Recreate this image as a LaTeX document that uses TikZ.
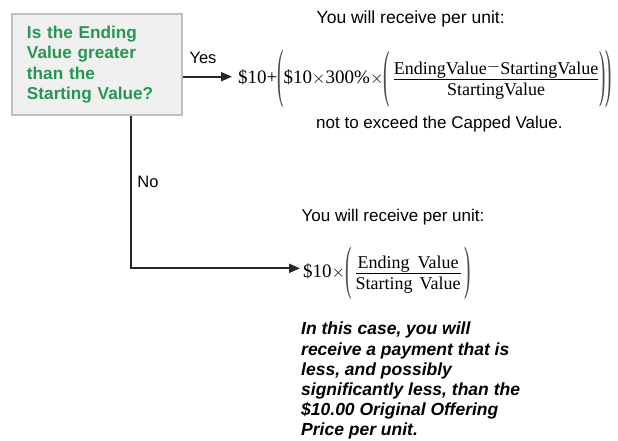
\documentclass[tikz,border=0pt]{standalone}
\usepackage{fontspec}
\usepackage{graphicx}
\setmainfont{Liberation Serif}
\setsansfont{Liberation Sans}
\usetikzlibrary{arrows.meta,calc}
\definecolor{qgreen}{RGB}{38,150,84}
\newcommand{\tallL}[1]{\vcenter{\hbox{\color{black!70}\scalebox{1}[#1]{(}}}}
\newcommand{\tallR}[1]{\vcenter{\hbox{\color{black!70}\scalebox{1}[#1]{)}}}}
\newcommand{\numlow}[1]{\raisebox{-3pt}[\height][0pt]{#1}}
\begin{document}
\begin{tikzpicture}[x=1pt,y=-1pt,
  conn/.style={line width=2pt, draw=black!85, -{Triangle[length=11pt,width=9pt]}},
  lbl/.style={font=\sffamily\fontsize{16.5}{19}\selectfont, inner sep=0pt},
  txt/.style={font=\sffamily\fontsize{17}{20}\selectfont, inner sep=0pt, anchor=west, align=left},
  itxt/.style={font=\sffamily\bfseries\itshape\fontsize{17.5}{20.2}\selectfont, inner sep=0pt, anchor=north west, align=left},
  formula/.style={font=\fontsize{19}{22}\selectfont, inner ysep=0pt, inner xsep=0pt, anchor=west},
  qbox/.style={draw=gray!50, fill=gray!12, line width=1.4pt, minimum width=170pt, minimum height=101pt, text width=140pt, align=left, font=\sffamily\bfseries\fontsize{17.2}{20.5}\selectfont, text=qgreen, inner xsep=15pt}]
\useasboundingbox (0,0) rectangle (618,440);
\node[qbox] (q) at (97,64.5) {Is the Ending\\Value greater\\than the\\Starting Value?};
\node[txt, font=\sffamily\fontsize{17.5}{20}\selectfont] (t1) at (316.5,18.5) {You will receive per unit:};
\node[formula] (f1) at (238,79) {$\mbox{\$10+}\tallL{3.4}\mbox{\$10}{\times}\mbox{300\%}{\times}\tallL{3.3}\,\displaystyle\frac{\numlow{\fontsize{18}{22}\selectfont EndingValue}{-}\numlow{\fontsize{18}{22}\selectfont StartingValue}}{\mbox{\fontsize{18}{22}\selectfont StartingValue}}\tallR{3.3}\tallR{3.4}$};
\node[txt] (t2) at (316,124) {not to exceed the Capped Value.};
\coordinate (yesy) at (0,76.7);
\node[lbl] (yes) at (203,58) {Yes};
\draw[conn] (q.east |- yesy) -- ([xshift=-6pt]f1.west |- yesy);
\node[txt] (t3) at (301.5,217) {You will receive per unit:};
\node[formula] (f2) at (303,273.5) {$\mbox{\$10}{\times}\tallL{3.1}\,\displaystyle\frac{\numlow{\fontsize{18}{22}\selectfont Ending\hspace{8pt}Value}}{\mbox{\fontsize{18}{22}\selectfont Starting\hspace{7pt}Value}}\,\tallR{3.1}$};
\coordinate (corner) at (130.5,268.3);
\draw[conn] (q.south -| corner) -- (corner) -- ([xshift=-3pt]f2.west |- corner);
\node[lbl] (no) at (148,182) {No};
\node[itxt] (t4) at (301,322) {In this case, you will\\receive a payment that is\\less, and possibly\\significantly less, than the\\\$10.00 Original Offering\\Price per unit.};
\end{tikzpicture}
\end{document}
